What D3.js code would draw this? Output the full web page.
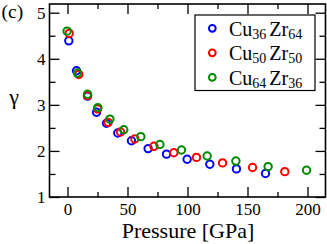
<!DOCTYPE html>
<html><head><meta charset="utf-8">
<script src="https://cdn.jsdelivr.net/npm/d3@7/dist/d3.min.js"></script>
<style>
html,body{margin:0;padding:0;background:#fff;}
svg{display:block;}
</style></head>
<body>
<svg id="c" width="327" height="244"></svg>
<script>
// Data (Pressure in GPa, gamma)
const seriesNames = ["Cu36Zr64", "Cu50Zr50", "Cu64Zr36"];
const legendParts = [["Cu","36","Zr","64"],["Cu","50","Zr","50"],["Cu","64","Zr","36"]];
const pressureA = [1.1, 7.5, 16.7, 24.2, 32.5, 41.9, 53.3, 67.2, 82.5, 99.7, 118.6, 140.8, 165];
const gammaA    = [4.39, 3.74, 3.19, 2.84, 2.60, 2.39, 2.22, 2.05, 1.93, 1.82, 1.71, 1.61, 1.51];
const pressureB = [1.4, 9.4, 16.7, 25, 33.9, 44.2, 56.1, 72, 88.6, 107.5, 129.2, 154.2, 181.1];
const gammaB    = [4.55, 3.66, 3.20, 2.91, 2.62, 2.41, 2.26, 2.10, 1.96, 1.86, 1.74, 1.64, 1.55];
const pressureC = [-0.3, 8.3, 16.7, 25.3, 35.3, 46.9, 61.1, 77, 95, 116.4, 140.3, 167.2, 199.2];
const gammaC    = [4.60, 3.69, 3.23, 2.94, 2.69, 2.46, 2.31, 2.14, 2.02, 1.89, 1.78, 1.66, 1.58];
const xTickValues = [0, 50, 100, 150, 200];
const xMinorValues = [25, 75, 125, 175];
const yTickValues = [1, 2, 3, 4, 5];
const yMinorValues = [1.5, 2.5, 3.5, 4.5];
const colors = ["#0000ff", "#ff0000", "#008b00"];

const FONT = "Liberation Serif";
const svg = d3.select("#c").attr("font-family", FONT);
const L = 49.5, R = 325.5, T = 4, B = 197;
const x = d3.scaleLinear().domain([-15, 215]).range([L, R]);
const y = d3.scaleLinear().domain([1, 5.2]).range([B, B - 4.2 * ((B - 12.7) / 4)]);

function styleAxis(g) {
  g.attr("font-family", FONT);
  g.select(".domain").remove();
  g.selectAll("line").attr("stroke", "#000").attr("stroke-width", 1.3);
}
svg.append("g").attr("transform", `translate(0,${B})`)
  .call(d3.axisBottom(x).tickValues(xTickValues).tickSize(-10).tickFormat(d3.format("d")))
  .call(styleAxis)
  .call(g => g.selectAll("text").attr("y", 6).attr("dy", "0.71em")
     .attr("font-size", 17).attr("font-family", FONT).attr("fill", "#000"));
svg.append("g").attr("transform", `translate(0,${B})`)
  .call(d3.axisBottom(x).tickValues(xMinorValues).tickSize(-5).tickFormat(""))
  .call(styleAxis);
svg.append("g").attr("transform", `translate(0,${T})`)
  .call(d3.axisTop(x).tickValues(xTickValues).tickSize(-10).tickFormat(""))
  .call(styleAxis);
svg.append("g").attr("transform", `translate(0,${T})`)
  .call(d3.axisTop(x).tickValues(xMinorValues).tickSize(-5).tickFormat(""))
  .call(styleAxis);
svg.append("g").attr("transform", `translate(${L},0)`)
  .call(d3.axisLeft(y).tickValues(yTickValues).tickSize(-10).tickFormat(d3.format("d")))
  .call(styleAxis)
  .call(g => g.selectAll("text").attr("x", -4).attr("dy", "0.35em")
     .attr("font-size", 17).attr("font-family", FONT).attr("fill", "#000"));
svg.append("g").attr("transform", `translate(${L},0)`)
  .call(d3.axisLeft(y).tickValues(yMinorValues).tickSize(-6).tickFormat(""))
  .call(styleAxis);
svg.append("g").attr("transform", `translate(${R},0)`)
  .call(d3.axisRight(y).tickValues(yTickValues).tickSize(-10).tickFormat(""))
  .call(styleAxis);
svg.append("g").attr("transform", `translate(${R},0)`)
  .call(d3.axisRight(y).tickValues(yMinorValues).tickSize(-6).tickFormat(""))
  .call(styleAxis);

// Frame
svg.append("rect").attr("x", L).attr("y", T).attr("width", R - L).attr("height", B - T)
  .attr("fill", "none").attr("stroke", "#000").attr("stroke-width", 1.6);

// Data points
const allSeries = [
  {px: pressureA, g: gammaA},
  {px: pressureB, g: gammaB},
  {px: pressureC, g: gammaC}
];
allSeries.forEach((s, i) => {
  const pts = s.px.map((p, j) => [p, s.g[j]]);
  svg.append("g").selectAll("circle").data(pts).join("circle")
    .attr("cx", d => x(d[0])).attr("cy", d => y(d[1])).attr("r", 3.7)
    .attr("fill", "none").attr("stroke", colors[i]).attr("stroke-width", 2);
});

// Legend
const lg = svg.append("g");
lg.append("rect").attr("x", 195).attr("y", 15).attr("width", 120).attr("height", 75.5)
  .attr("fill", "#fff").attr("stroke", "#000").attr("stroke-width", 1.2);
legendParts.forEach((parts, i) => {
  const cy = 28.3 + i * 24.5;
  lg.append("circle").attr("cx", 212.3).attr("cy", cy).attr("r", 3.4)
    .attr("fill", "none").attr("stroke", colors[i]).attr("stroke-width", 2);
  const t = lg.append("text").attr("x", 229).attr("y", cy + 7.5)
    .attr("font-family", FONT).attr("font-size", 20).attr("fill", "#000");
  t.append("tspan").text(parts[0]);
  t.append("tspan").attr("font-size", 14).attr("dy", 3).text(parts[1]);
  t.append("tspan").attr("dy", -3).attr("dx", 3).text(parts[2]);
  t.append("tspan").attr("font-size", 14).attr("dy", 3).text(parts[3]);
});

// Labels
svg.append("text").attr("x", 188).attr("y", 237.5).attr("text-anchor", "middle")
  .attr("font-family", FONT).attr("font-size", 22).attr("fill", "#000").text("Pressure [GPa]");
svg.append("text").attr("x", 14).attr("y", 104).attr("text-anchor", "middle")
  .attr("font-family", FONT).attr("font-size", 22).attr("fill", "#000").text("γ");
svg.append("text").attr("x", 1.5).attr("y", 17.5)
  .attr("font-family", FONT).attr("font-size", 19.5).attr("fill", "#000").text("(c)");
</script>
</body></html>
